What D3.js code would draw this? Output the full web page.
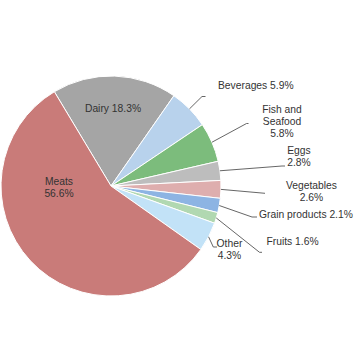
<!DOCTYPE html>
<html>
<head>
<meta charset="utf-8">
<script src="https://cdn.jsdelivr.net/npm/d3@7"></script>
<style>
html,body{margin:0;padding:0;background:#fff;}
svg{display:block;}
text{font-family:"Liberation Sans",Arial,sans-serif;font-size:10.3px;fill:#333;}
</style>
</head>
<body>
<svg id="chart" width="356" height="357"></svg>
<script>
// Data
const categories = ["Dairy","Beverages","Fish and Seafood","Eggs","Vegetables","Grain products","Fruits","Other","Meats"];
const values = [18.3, 5.9, 5.8, 2.8, 2.6, 2.1, 1.6, 4.3, 56.6];
const labelLines = [
  ["Dairy 18.3%"],
  ["Beverages 5.9%"],
  ["Fish and","Seafood","5.8%"],
  ["Eggs","2.8%"],
  ["Vegetables","2.6%"],
  ["Grain products 2.1%"],
  ["Fruits 1.6%"],
  ["Other","4.3%"],
  ["Meats","56.6%"]
];
const colors = ["#a5a5a5","#b8d2ec","#7cbc7c","#bdbdbd","#deaeae","#8db4e3","#b1d8b1","#c2e2f7","#c97b79"];

// Layout (label placement, not data)
const cx = 111, cy = 186, R = 110;
const startDeg = -31;
const layout = [
  {x:113, y:108, anchor:"middle", inside:true},
  {x:218, y:85, anchor:"start", elbow:[202,96.5], end:[205.5,96.5]},
  {x:282, y:109, anchor:"middle", elbow:[246.5,123.5], end:[248.5,123.5]},
  {x:299, y:150.5, anchor:"middle", elbow:[282,166], end:[285,166]},
  {x:311.5, y:185, anchor:"middle", elbow:[265,193.3], end:[265,193.3]},
  {x:259, y:214, anchor:"start", elbow:[252,217], end:[257,217]},
  {x:266.5, y:241.5, anchor:"start", elbow:[259.5,252.3], end:[262,252.3]},
  {x:229.5, y:243.3, anchor:"middle", elbow:[213.3,247], end:[217,247]},
  {x:59, y:181, anchor:"middle", inside:true}
];
const lineH = 12;

const svg = d3.select("#chart");
const g = svg.append("g").attr("transform", `translate(${cx},${cy})`);

const pie = d3.pie().sort(null).value(d => d)
  .startAngle(startDeg*Math.PI/180).endAngle((startDeg+360)*Math.PI/180);
const arcs = pie(values);
const arc = d3.arc().innerRadius(0).outerRadius(R);

g.selectAll("path.slice").data(arcs).join("path")
  .attr("class","slice")
  .attr("d", arc)
  .attr("fill", (d,i) => colors[i])
  .attr("stroke", "#fff")
  .attr("stroke-width", 1);

// Leader lines
arcs.forEach((d,i) => {
  const L = layout[i];
  if (L.inside) return;
  const mid = (d.startAngle + d.endAngle)/2;
  const p = d3.pointRadial(mid, R);
  const pts = [[cx+p[0], cy+p[1]], L.elbow, L.end];
  svg.append("path")
    .attr("d", d3.line()(pts))
    .attr("fill","none")
    .attr("stroke","#555")
    .attr("stroke-width",0.9);
});

// Labels
labelLines.forEach((lines,i) => {
  const L = layout[i];
  const t = svg.append("text")
    .attr("text-anchor", L.anchor);
  lines.forEach((s,k) => {
    t.append("tspan")
      .attr("x", L.x)
      .attr("y", L.y + k*lineH + 3.7)
      .text(s);
  });
});
</script>
</body>
</html>
